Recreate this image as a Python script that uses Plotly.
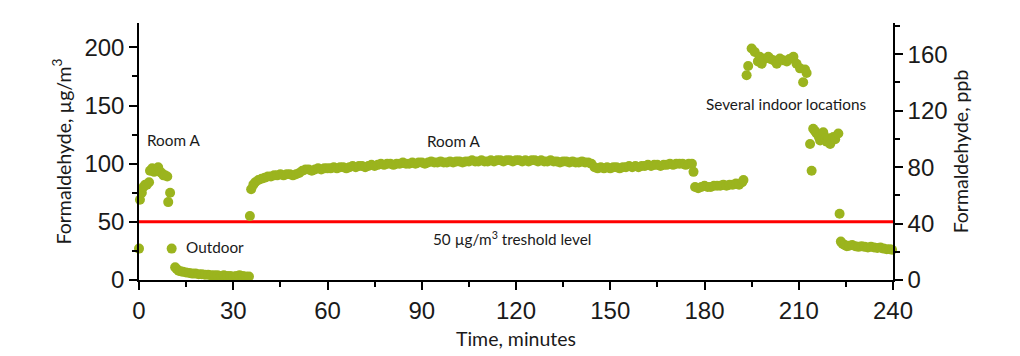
import plotly.graph_objects as go

# ---------------- data (time in minutes, formaldehyde in µg/m³) ----------------
room_a1_t = [0.0, 0.3, 0.9, 1.4, 2.0, 2.5, 3.2, 3.5, 4.2, 4.8, 5.5, 6.1, 6.7, 7.2, 7.8, 8.3, 9.0, 9.3, 9.9]
room_a1_v = [27, 69, 75, 80, 82, 82, 84, 94, 96, 93, 95, 97, 93, 92, 90, 90, 89, 67, 75]

outdoor_t = [10.4, 11.5, 12.0, 12.6, 13.2, 14, 15, 16, 17, 18, 19, 20, 21, 22, 23, 24, 25, 26, 27,
             28, 29, 30, 31, 32, 33, 34, 35]
outdoor_v = [27, 11, 9.5, 8, 7.5, 7, 6.5, 6, 5.5, 5.5, 5, 5, 4.5, 4.5, 4, 4, 4, 3.5, 4,
             3.5, 3.5, 3, 3.5, 4, 3.5, 3, 3]

room_a2_t = [35.3, 35.7, 36.4, 37, 38, 39, 40, 41, 42, 43, 44, 45, 46, 47, 48, 49, 50,
             51, 52, 53, 54, 55, 56, 57, 58, 59, 60, 61, 62, 63, 64, 65, 66, 67, 68, 69, 70,
             71, 72, 73, 74, 75, 76, 77, 78, 79, 80, 81, 82, 83, 84, 85, 86, 87, 88, 89, 90,
             91, 92, 93, 94, 95, 96, 97, 98, 99, 100, 101, 102, 103, 104, 105, 106, 107, 108,
             109, 110, 111, 112, 113, 114, 115, 116, 117, 118, 119, 120, 121, 122, 123, 124,
             125, 126, 127, 128, 129, 130, 131, 132, 133, 134, 135, 136, 137, 138, 139, 140,
             141, 142, 143, 144, 145, 146, 147, 148, 149, 150, 151, 152, 153, 154, 155, 156,
             157, 158, 159, 160, 161, 162, 163, 164, 165, 166, 167, 168, 169, 170, 171, 172,
             173, 174, 175, 176, 176.5]
room_a2_v = [55, 78, 82, 84, 86, 87, 88, 89, 89, 90, 90, 91, 90, 91, 91, 90, 91,
             92, 94, 95, 95, 94, 95, 96, 95, 96, 96, 96, 97, 96, 97, 97, 96, 97, 98, 97, 98,
             98, 97, 98, 99, 98, 99, 100, 99, 100, 100, 99, 100, 100, 101, 100, 100, 101, 100, 101, 101,
             100, 101, 102, 101, 101, 102, 101, 101, 102, 101, 102, 102, 101, 102, 102, 103, 102, 102,
             103, 102, 102, 103, 102, 103, 103, 102, 103, 103, 102, 103, 103, 102, 103, 102,
             103, 103, 102, 103, 102, 102, 103, 102, 102, 101, 102, 102, 101, 102, 101, 101,
             102, 101, 101, 100, 97, 96, 97, 96, 97, 96, 97, 97, 96, 97, 97, 98,
             97, 98, 97, 98, 98, 99, 98, 99, 99, 98, 99, 99, 100, 99, 100, 100,
             100, 99, 100, 100, 93]

room_b_t = [177, 178, 179, 180, 181, 182, 183, 184, 185, 186, 187, 188, 189, 190, 191, 192, 192.4]
room_b_v = [80, 79, 80, 81, 80, 80, 81, 81, 81, 82, 81, 82, 82, 83, 82, 84, 86]

indoor_t = [193.4, 193.9, 195.0, 196.0, 197.0, 197.6, 198.2, 199.0, 200.3, 201.0, 201.9, 203.0,
            204.0, 205.0, 206.2, 207.0, 208.3, 209.3, 210.4, 211.4, 212.0, 212.5,
            213.6, 214.1, 214.6, 215.2, 215.7, 216.4, 216.8, 217.8, 218.4, 218.9, 219.5, 220.0,
            221.0, 221.6, 222.6, 223.0]
indoor_v = [176, 184, 199, 196, 188, 192, 186, 190, 192, 190, 189, 186,
            190.5, 189, 188, 190, 192, 186, 182, 170, 181, 178,
            117, 94, 130, 128, 126, 123, 120, 127, 122, 119, 122, 117,
            123, 121, 126, 57]

final_t = [223.4, 224, 224.7, 225.3, 226, 227, 228, 229, 230, 231, 232, 233, 234, 235, 236, 237,
           238, 239, 239.7]
final_v = [33, 31, 30, 29, 29.5, 30, 29, 28.5, 29, 28.5, 28, 28.5, 28, 27.5, 28, 27,
           26.5, 26.5, 26]

threshold_t = [0, 240]
threshold_v = [50, 50]

x_ticks = [0, 30, 60, 90, 120, 150, 180, 210, 240]
y_ticks = [0, 50, 100, 150, 200]
ppb_ticks = [0, 40, 80, 120, 160]

ug_per_ppb = 1.2135
y_max = 221

# ---------------- figure ----------------
all_t = room_a1_t + outdoor_t + room_a2_t + room_b_t + indoor_t + final_t
all_v = room_a1_v + outdoor_v + room_a2_v + room_b_v + indoor_v + final_v

GREEN = "#9bb41e"
TEXT = "#1a1a1a"
TICKFONT = dict(family="Liberation Sans, Arial, sans-serif", size=24, color=TEXT)
TITLEFONT = dict(family="Lato, sans-serif", size=19.5, color=TEXT)
ANNFONT = dict(family="Lato, sans-serif", size=15.3, color=TEXT)

fig = go.Figure()
fig.add_trace(go.Scatter(x=threshold_t, y=threshold_v, mode="lines",
                         line=dict(color="#ff0000", width=3), showlegend=False,
                         hoverinfo="skip"))
fig.add_trace(go.Scatter(x=all_t, y=all_v, mode="markers",
                         marker=dict(color=GREEN, size=10, line=dict(width=0)),
                         cliponaxis=False, showlegend=False))
fig.add_trace(go.Scatter(x=[None], y=[None], yaxis="y2", showlegend=False,
                         hoverinfo="skip"))

axis_common = dict(showline=True, linecolor="black", linewidth=1.5, ticks="outside",
                   ticklen=8, tickwidth=1.5, tickcolor="black", showgrid=False,
                   zeroline=False, tickfont=TICKFONT, automargin=False)

# the page body adds an 8px offset, margins compensate for it
fig.update_layout(
    width=1020, height=356,
    margin=dict(l=131, r=135, t=15, b=84, autoexpand=False),
    paper_bgcolor="white", plot_bgcolor="white",
    xaxis=dict(range=[0, 240], tickvals=x_ticks,
               minor=dict(dtick=15, tick0=0, ticks="outside", ticklen=5,
                          tickwidth=1.5, tickcolor="black"),
               title=dict(text="Time, minutes", font=TITLEFONT, standoff=10),
               **axis_common),
    yaxis=dict(range=[0, y_max], tickvals=y_ticks,
               minor=dict(dtick=25, tick0=0, ticks="outside", ticklen=5,
                          tickwidth=1.5, tickcolor="black"),
               title=dict(text="Formaldehyde, µg/m<sup>3</sup>", font=TITLEFONT, standoff=8),
               **axis_common),
    yaxis2=dict(range=[0, y_max / ug_per_ppb], tickvals=ppb_ticks, overlaying="y",
                side="right", anchor="x",
                minor=dict(dtick=20, tick0=0, ticks="outside", ticklen=5,
                           tickwidth=1.5, tickcolor="black"),
                title=dict(text="Formaldehyde, ppb", font=TITLEFONT, standoff=8),
                **axis_common),
)

annotations = [
    dict(x=1.9, y=120, text="Room A", xanchor="left"),
    dict(x=14.3, y=28.4, text="Outdoor", xanchor="left"),
    dict(x=100, y=119.5, text="Room A", xanchor="center"),
    dict(x=206, y=151, text="Several indoor locations", xanchor="center"),
    dict(x=118.8, y=36, text="50 µg/m<sup>3</sup> treshold level", xanchor="center"),
]
for a in annotations:
    fig.add_annotation(x=a["x"], y=a["y"], text=a["text"], xanchor=a["xanchor"],
                       yanchor="middle", showarrow=False, font=ANNFONT,
                       xref="x", yref="y")

fig.write_html("out.html")
